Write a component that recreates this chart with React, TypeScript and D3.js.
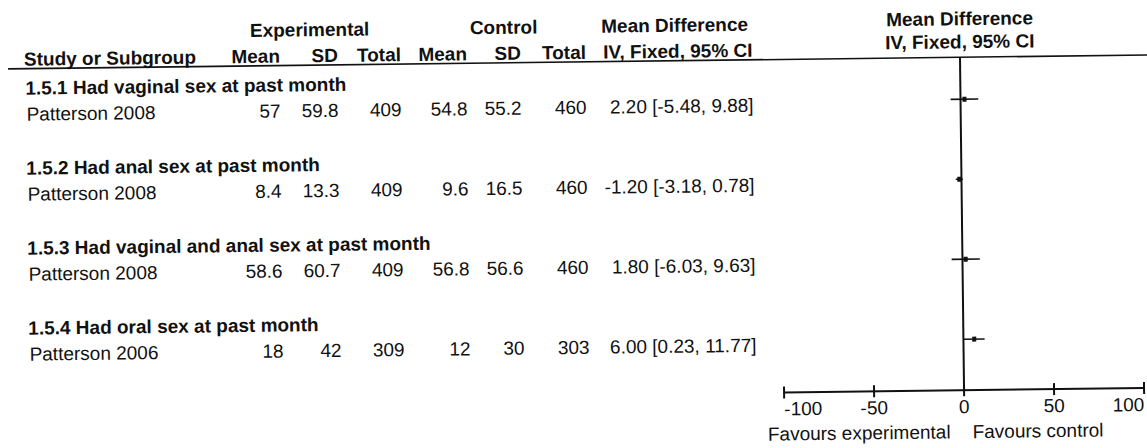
import * as d3 from 'd3';

// forest plot data
const subgroups = [
  '1.5.1 Had vaginal sex at past month',
  '1.5.2 Had anal sex at past month',
  '1.5.3 Had vaginal and anal sex at past month',
  '1.5.4 Had oral sex at past month',
];
const studies = ['Patterson 2008', 'Patterson 2008', 'Patterson 2008', 'Patterson 2006'];
const expMean = [57, 8.4, 58.6, 18];
const expSD = [59.8, 13.3, 60.7, 42];
const expTotal = [409, 409, 409, 309];
const ctlMean = [54.8, 9.6, 56.8, 12];
const ctlSD = [55.2, 16.5, 56.6, 30];
const ctlTotal = [460, 460, 460, 303];
const meanDiff = [2.2, -1.2, 1.8, 6.0];
const ciLow = [-5.48, -3.18, -6.03, 0.23];
const ciHigh = [9.88, 0.78, 9.63, 11.77];
const axisTicks = [-100, -50, 0, 50, 100];

const W = 1147;
const H = 448;
const FONT = '"Liberation Sans", Arial, sans-serif';
const INK = '#111';

export default function App() {
  const x = d3.scaleLinear().domain([-100, 100]).range([782, 1142]);
  // each subgroup = header line + one study line
  const groupY = d3.scaleLinear().domain([0, 1]).range([88, 168]);
  const studyY = (i: number) => groupY(i) + 26;

  const lineTop = 62;
  const axisY = 395;

  // right-aligned column edges
  const cols = [
    { head: 'Mean', x: 282, vals: expMean },
    { head: 'SD', x: 340, vals: expSD },
    { head: 'Total', x: 403, vals: expTotal },
    { head: 'Mean', x: 469, vals: ctlMean },
    { head: 'SD', x: 523, vals: ctlSD },
    { head: 'Total', x: 588, vals: ctlTotal },
  ];
  const ciRight = 755;

  const fmt = (v: number) => v.toFixed(2);

  return (
    <div style={{ position: 'absolute', left: 0, top: 0 }}>
      <svg width={W} height={H} style={{ display: 'block', background: '#fff' }}>
        <g transform="rotate(-0.7 573 224)" fontFamily={FONT} fill={INK}>
          {/* top headers */}
          <text x={312} y={33} fontSize={19} fontWeight="bold" textAnchor="middle">Experimental</text>
          <text x={506} y={33} fontSize={19} fontWeight="bold" textAnchor="middle">Control</text>
          <text x={677} y={33} fontSize={19} fontWeight="bold" textAnchor="middle">Mean Difference</text>
          <text x={x(0)} y={30} fontSize={19} fontWeight="bold" textAnchor="middle">Mean Difference</text>
          <text x={x(0)} y={53} fontSize={19} fontWeight="bold" textAnchor="middle">IV, Fixed, 95% CI</text>

          <text x={26} y={59} fontSize={19} fontWeight="bold">Study or Subgroup</text>
          {cols.map((c, k) => (
            <text key={k} x={c.x} y={59} fontSize={19} fontWeight="bold" textAnchor="end">{c.head}</text>
          ))}
          <text x={680} y={59} fontSize={19} fontWeight="bold" textAnchor="middle">IV, Fixed, 95% CI</text>

          <line x1={10} x2={1150} y1={lineTop} y2={lineTop} stroke={INK} strokeWidth={1.6} />

          {/* rows */}
          {subgroups.map((s, i) => (
            <g key={i}>
              <text x={27} y={groupY(i)} fontSize={19} fontWeight="bold">{s}</text>
              <text x={28} y={studyY(i)} fontSize={19}>{studies[i]}</text>
              {cols.map((c, k) => (
                <text key={k} x={c.x} y={studyY(i)} fontSize={19} textAnchor="end">{String(c.vals[i])}</text>
              ))}
              <text x={ciRight} y={studyY(i)} fontSize={19} textAnchor="end">
                {`${fmt(meanDiff[i])} [${fmt(ciLow[i])}, ${fmt(ciHigh[i])}]`}
              </text>
            </g>
          ))}

          {/* plot: zero line */}
          <line x1={x(0)} x2={x(0)} y1={lineTop} y2={axisY} stroke={INK} strokeWidth={2} />

          {/* CI whiskers and squares */}
          {meanDiff.map((m, i) => {
            const cy = studyY(i) - 10;
            return (
              <g key={i}>
                <line x1={x(ciLow[i])} x2={x(ciHigh[i])} y1={cy} y2={cy} stroke={INK} strokeWidth={1.6} />
                <rect x={x(m) - 2} y={cy - 2.5} width={4} height={5} fill={INK} />
              </g>
            );
          })}

          {/* axis */}
          <line x1={x(-100)} x2={x(100)} y1={axisY} y2={axisY} stroke={INK} strokeWidth={2} />
          {axisTicks.map((t, k) => (
            <g key={t}>
              <line x1={x(t)} x2={x(t)} y1={axisY - 6} y2={axisY + 6} stroke={INK} strokeWidth={2} />
              <text
                x={x(t)}
                y={418}
                fontSize={19}
                textAnchor={k === 0 ? 'start' : k === axisTicks.length - 1 ? 'end' : 'middle'}
              >
                {String(t)}
              </text>
            </g>
          ))}
          <text x={x(0) - 14} y={443} fontSize={19} textAnchor="end">Favours experimental</text>
          <text x={x(0) + 8} y={443} fontSize={19} textAnchor="start">Favours control</text>
        </g>
      </svg>
    </div>
  );
}
